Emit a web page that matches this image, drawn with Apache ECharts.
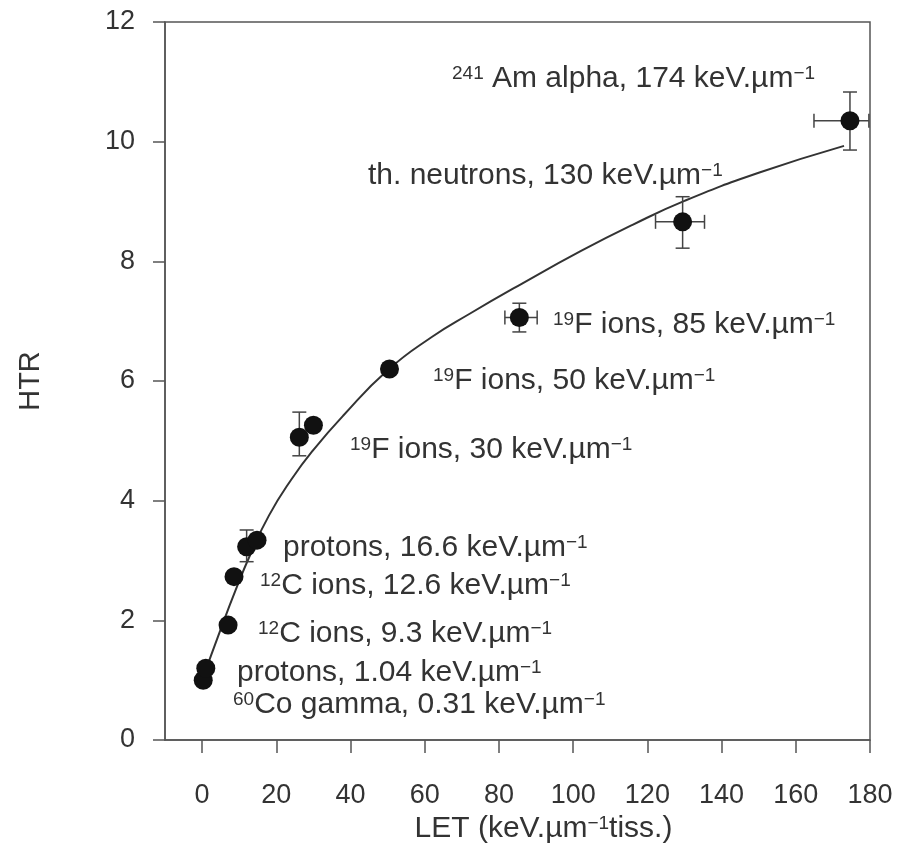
<!DOCTYPE html>
<html>
<head>
<meta charset="utf-8">
<script src="https://cdn.jsdelivr.net/npm/echarts@6/dist/echarts.min.js"></script>
<style>
  html, body { margin: 0; padding: 0; background: #fff; }
  #htr-chart { width: 899px; height: 855px; }
</style>
</head>
<body>
<div id="htr-chart"></div>
<script>
// measured points (LET, HTR)
var pointX = [0.3, 1.0, 7.0, 8.6, 12.0, 14.8, 26.2, 30.0, 50.5, 85.5, 129.5, 174.6];
var pointY = [1.0, 1.2, 1.92, 2.73, 3.23, 3.34, 5.06, 5.26, 6.2, 7.06, 8.66, 10.35];

// error bars: x, y, low/high in x, low/high in y (null = none)
var errX     = [12.0, 26.2, 85.5, 129.5, 174.6];
var errY     = [3.23, 5.06, 7.06, 8.66, 10.35];
var errXLow  = [null, null, 81.6, 122.2, 164.9];
var errXHigh = [null, null, 90.3, 135.4, 179.7];
var errYLow  = [2.98, 4.75, 6.82, 8.22, 9.86];
var errYHigh = [3.51, 5.48, 7.30, 9.08, 10.83];

// fitted curve
var curveX = [0, 5, 9, 13, 18, 24, 30, 38, 50, 62, 72, 86, 102, 116, 130, 150, 173];
var curveY = [1.0, 1.85, 2.5, 3.1, 3.75, 4.35, 4.85, 5.42, 6.18, 6.74, 7.12, 7.62, 8.17, 8.61, 9.01, 9.48, 9.93];

var xTicks = [0, 20, 40, 60, 80, 100, 120, 140, 160, 180];

// annotation texts (rich text: {s|..} is superscript)
var labelTexts = [
  '{s|241} Am alpha, 174 keV.µm{s|−1}',
  'th. neutrons, 130 keV.µm{s|−1}',
  '{s|19}F ions, 85 keV.µm{s|−1}',
  '{s|19}F ions, 50 keV.µm{s|−1}',
  '{s|19}F ions, 30 keV.µm{s|−1}',
  'protons, 16.6 keV.µm{s|−1}',
  '{s|12}C ions, 12.6 keV.µm{s|−1}',
  '{s|12}C ions, 9.3 keV.µm{s|−1}',
  'protons, 1.04 keV.µm{s|−1}',
  '{s|60}Co gamma, 0.31 keV.µm{s|−1}'
];
var labelLeft = [452, 368, 553, 433, 350, 283, 260, 258, 237, 233];
var labelMid  = [79, 176, 325, 381, 450, 548, 586, 634, 673, 705];

var FONT = 'Liberation Sans';
var TXT = '#333';
var richSup = {
  s: { fontSize: 19, fontFamily: FONT, color: TXT, verticalAlign: 'top', lineHeight: 15 }
};

var chart = echarts.init(document.getElementById('htr-chart'));

var graphics = labelTexts.map(function (t, i) {
  return {
    type: 'text',
    x: labelLeft[i],
    y: labelMid[i],
    style: {
      text: t,
      fontSize: 30,
      fontFamily: FONT,
      fill: TXT,
      align: 'left',
      verticalAlign: 'middle',
      rich: richSup
    }
  };
});

var option = {
  animation: false,
  backgroundColor: '#fff',
  grid: {
    left: 165, right: 29, top: 22, bottom: 115,
    containLabel: false,
    outerBoundsMode: 'none',
    show: true,
    borderColor: '#555',
    borderWidth: 1.5
  },
  xAxis: {
    type: 'value',
    min: -10, max: 180,
    name: 'LET (keV.µm{s|−1}tiss.)',
    nameLocation: 'middle',
    nameGap: 74,
    nameTextStyle: { fontSize: 30, fontFamily: FONT, color: TXT, rich: richSup, padding: [0, 0, 0, 52] },
    axisLine: { show: true, onZero: false, lineStyle: { color: '#555', width: 1.5 } },
    axisTick: { show: true, length: 13, customValues: xTicks, lineStyle: { color: '#555', width: 1.5 } },
    axisLabel: { customValues: xTicks, fontSize: 27, fontFamily: FONT, color: TXT, margin: 42 },
    splitLine: { show: false }
  },
  yAxis: {
    type: 'value',
    min: 0, max: 12, interval: 2,
    name: 'HTR',
    nameLocation: 'middle',
    nameGap: 120,
    nameTextStyle: { fontSize: 29, fontFamily: FONT, color: TXT },
    axisLine: { show: true, onZero: false, lineStyle: { color: '#555', width: 1.5 } },
    axisTick: { show: true, length: 12, lineStyle: { color: '#555', width: 1.5 } },
    axisLabel: { fontSize: 27, fontFamily: FONT, color: TXT, margin: 30 },
    splitLine: { show: false }
  },
  graphic: graphics,
  series: [
    {
      name: 'fit',
      type: 'line',
      smooth: true,
      showSymbol: false,
      lineStyle: { color: '#333', width: 2 },
      data: curveX.map(function (x, i) { return [x, curveY[i]]; }),
      z: 2
    },
    {
      name: 'errors',
      type: 'custom',
      data: errX.map(function (x, i) {
        return [x, errY[i], errXLow[i], errXHigh[i], errYLow[i], errYHigh[i]];
      }),
      renderItem: function (params, api) {
        var x = api.value(0), y = api.value(1);
        var cap = 7;
        var style = { stroke: '#444', lineWidth: 1.5 };
        var kids = [];
        var xl = api.value(2), xh = api.value(3), yl = api.value(4), yh = api.value(5);
        if (!isNaN(yl) && yl !== null && yl !== '-') {
          var a = api.coord([x, yl]), b = api.coord([x, yh]);
          kids.push({ type: 'line', shape: { x1: a[0], y1: a[1], x2: b[0], y2: b[1] }, style: style });
          kids.push({ type: 'line', shape: { x1: a[0] - cap, y1: a[1], x2: a[0] + cap, y2: a[1] }, style: style });
          kids.push({ type: 'line', shape: { x1: b[0] - cap, y1: b[1], x2: b[0] + cap, y2: b[1] }, style: style });
        }
        if (!isNaN(xl) && xl !== null && xl !== '-') {
          var c = api.coord([xl, y]), d = api.coord([xh, y]);
          kids.push({ type: 'line', shape: { x1: c[0], y1: c[1], x2: d[0], y2: d[1] }, style: style });
          kids.push({ type: 'line', shape: { x1: c[0], y1: c[1] - cap, x2: c[0], y2: c[1] + cap }, style: style });
          kids.push({ type: 'line', shape: { x1: d[0], y1: d[1] - cap, x2: d[0], y2: d[1] + cap }, style: style });
        }
        return { type: 'group', children: kids };
      },
      z: 3
    },
    {
      name: 'HTR',
      type: 'scatter',
      symbol: 'circle',
      symbolSize: 19,
      itemStyle: { color: '#111', opacity: 1 },
      data: pointX.map(function (x, i) { return [x, pointY[i]]; }),
      z: 4
    }
  ]
};

chart.setOption(option);
</script>
</body>
</html>
